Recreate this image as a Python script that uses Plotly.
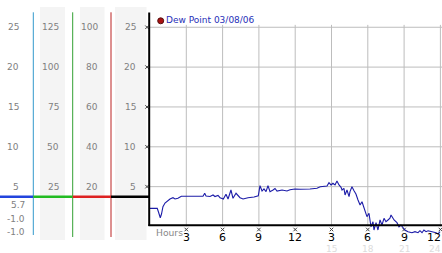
import plotly.graph_objects as go

# ---------------- data ----------------
hours = [0, 0.60, 0.70, 0.85, 0.95, 1.07, 1.24, 1.49, 1.65, 1.90, 2.07, 2.31, 2.59, 2.98, 3.72, 4.38,
         4.52, 4.63, 4.96, 5.21, 5.37, 5.62, 5.79, 6.06, 6.28, 6.45, 6.69, 6.86, 7.11, 7.44, 7.69,
         8.10, 8.60, 8.95, 9.09, 9.26, 9.42, 9.59, 9.75, 9.92, 10.17, 10.33, 10.50, 10.91, 11.32,
         11.57, 11.98, 12.40, 13.22, 13.80, 14.07, 14.63, 14.79, 14.96, 15.12, 15.29, 15.45, 15.62,
         15.79, 15.87, 16.03, 16.12, 16.28, 16.45, 16.53, 16.69, 16.86, 17.02, 17.19, 17.36, 17.52,
         17.69, 17.77, 17.85, 17.93, 18.10, 18.26, 18.43, 18.51, 18.68, 18.84, 19.01, 19.17, 19.34,
         19.50, 19.67, 19.83, 19.92, 20.17, 20.41, 20.58, 20.74, 20.91, 21.07, 21.32, 21.65, 21.90,
         22.15, 22.31, 22.48, 22.64, 22.81, 22.98, 23.31, 23.64, 23.80, 23.97]
dew_point = [2.28, 2.28, 1.82, 1.10, 1.57, 2.48, 2.95, 3.33, 3.45, 3.61, 3.45, 3.54, 3.79, 3.79, 3.79, 3.79,
             4.17, 3.83, 3.76, 3.95, 3.76, 3.89, 3.61, 3.45, 4.04, 3.45, 4.58, 3.54, 4.17, 3.61, 3.45,
             3.61, 3.70, 3.86, 5.12, 4.45, 4.71, 4.37, 5.12, 4.37, 4.58, 4.77, 4.45, 4.58, 4.45,
             4.62, 4.71, 4.67, 4.71, 4.79, 4.99, 5.08, 5.50, 5.21, 5.42, 5.21, 5.71, 5.21,
             4.92, 4.58, 4.79, 3.95, 4.58, 3.74, 4.37, 4.99, 4.49, 4.08, 3.32, 2.70, 3.11,
             2.28, 2.07, 1.66, 1.23, 1.66, -0.03, 0.60, -0.44, 0.48, -0.44, 0.82, 0.19, 1.03,
             0.60, 0.82, 1.03, 1.44, 0.82, 0.48, -0.03, 0.19, -0.10, -0.44, -0.65, -0.78, -0.65,
             -0.78, -0.53, -0.78, -0.44, -0.65, -0.53, -0.65, -0.78, -0.94, -0.65]

series_name = "Dew Point 03/08/06"
y_ticks = [25, 20, 15, 10, 5]
x_ticks = [3, 6, 9, 12, 15, 18, 21, 24]
x_tick_labels = ["3", "6", "9", "12", "3", "6", "9", "12"]
x_tick_labels_24h = ["", "", "", "", "15", "18", "21", "24"]
col1_labels = ["25", "20", "15", "10", "5"]
col2_labels = ["125", "100", "75", "50", "25"]
col3_labels = ["100", "80", "60", "40", "20"]
col4_labels = ["25", "20", "15", "10", "5"]
summary_labels = ["5.7", "-1.0", "-1.0"]

# ---------------- geometry ----------------
W, H = 442, 253
X0PX, PX_PER_H = 150.0, 12.1
Y0PX, PX_PER_V = 226.5, 7.97
xr = [(0 - X0PX) / PX_PER_H, (W - X0PX) / PX_PER_H]
yr = [(Y0PX - H) / PX_PER_V, Y0PX / PX_PER_V]


def px(x):
    return x / W


def py(y):
    return 1 - y / H


FONT = "DejaVu Sans, Verdana, sans-serif"
fig = go.Figure()
shapes = []
ann = []

# left panel gray columns
for x0, x1 in [(40, 65), (80, 104.5), (115, 146.5)]:
    shapes.append(dict(type="rect", xref="paper", yref="paper", x0=px(x0), x1=px(x1),
                       y0=py(240), y1=py(7), fillcolor="#f4f4f4", line=dict(width=0), layer="below"))

# colored vertical lines
for xv, c, yb in [(33.3, "#3399cc", 235), (72.7, "#33a033", 237), (111, "#bb2222", 237)]:
    shapes.append(dict(type="line", xref="paper", yref="paper", x0=px(xv), x1=px(xv),
                       y0=py(yb), y1=py(12.3), line=dict(color=c, width=1)))

# horizontal gridlines
for v in y_ticks:
    shapes.append(dict(type="line", xref="paper", yref="y", x0=px(149), x1=1, y0=v, y1=v,
                       line=dict(color="#bdbdbd", width=1), layer="below"))
# vertical gridlines
for h in x_ticks:
    shapes.append(dict(type="line", xref="x", yref="y", x0=h, x1=h, y0=0, y1=25.3,
                       line=dict(color="#bdbdbd", width=1), layer="below"))

# colored current-value line
for x0, x1, c in [(0, 33.3, "#2244dd"), (33.3, 72.7, "#22bb22"), (72.7, 111, "#dd2222"), (111, 150, "#000000")]:
    shapes.append(dict(type="line", xref="paper", yref="paper", x0=px(x0), x1=px(x1),
                       y0=py(196.7), y1=py(196.7), line=dict(color=c, width=2.5)))

# main axes lines
shapes.append(dict(type="line", xref="paper", yref="paper", x0=px(149.2), x1=px(149.2),
                   y0=py(226), y1=py(12.5), line=dict(color="#000", width=2)))
shapes.append(dict(type="line", xref="paper", yref="paper", x0=px(148.5), x1=1,
                   y0=py(225.2), y1=py(225.2), line=dict(color="#000", width=2)))

# left panel labels
for labels, xright in [(col1_labels, 20.5), (col2_labels, 60.5), (col3_labels, 99.5), (col4_labels, 137.8)]:
    for lab, v in zip(labels, y_ticks):
        ann.append(dict(xref="paper", yref="y", x=px(xright), y=v, text=lab, showarrow=False,
                        xanchor="right", yanchor="middle", font=dict(family=FONT, size=9, color="#808080")))
for lab, yy in zip(summary_labels, [205, 218.5, 231.7]):
    ann.append(dict(xref="paper", yref="paper", x=px(27), y=py(yy), text=lab, showarrow=False,
                    xanchor="right", yanchor="middle", font=dict(family=FONT, size=9, color="#808080")))

# x tick labels
n = len(x_ticks)
for i, (h, lab, lab2) in enumerate(zip(x_ticks, x_tick_labels, x_tick_labels_24h)):
    last = i == n - 1
    xa = "right" if last else "center"
    xx = h + (1.2 / PX_PER_H if last else 0)
    ann.append(dict(xref="x", yref="paper", x=xx, y=py(237.2), text=lab, showarrow=False,
                    xanchor=xa, yanchor="middle", borderpad=0, height=11,
                    font=dict(family=FONT, size=11, color="#000")))
    if lab2:
        ann.append(dict(xref="x", yref="paper", x=xx, y=py(248.6), text=lab2, showarrow=False,
                        xanchor=xa, yanchor="middle", borderpad=0, height=9,
                        font=dict(family=FONT, size=9, color="#dcdcdc")))
ann.append(dict(xref="paper", yref="paper", x=px(155), y=py(231.8), text="Hours", showarrow=False,
                xanchor="left", yanchor="middle", borderpad=0, height=10,
                font=dict(family=FONT, size=9.2, color="#888")))

# legend label
ann.append(dict(xref="paper", yref="paper", x=px(163.5), y=py(20.5), text=series_name, showarrow=False,
                xanchor="left", yanchor="middle", font=dict(family=FONT, size=9, color="#1f2fb8")))

# tick marks (small crosses)
fig.add_trace(go.Scatter(x=x_ticks, y=[(Y0PX - 229.5) / PX_PER_V] * len(x_ticks), mode="markers",
                         marker=dict(symbol="x-thin", size=3.5, line=dict(width=1, color="#444")),
                         hoverinfo="skip", showlegend=False))
fig.add_trace(go.Scatter(x=[(147 - X0PX) / PX_PER_H] * len(y_ticks), y=y_ticks, mode="markers",
                         marker=dict(symbol="x-thin", size=3.5, line=dict(width=1, color="#444")),
                         hoverinfo="skip", showlegend=False))
# legend marker
fig.add_trace(go.Scatter(x=[(160.7 - X0PX) / PX_PER_H], y=[(Y0PX - 20.8) / PX_PER_V], mode="markers",
                         marker=dict(symbol="circle", size=6, color="#aa1111", line=dict(width=1, color="#551111")),
                         hoverinfo="skip", showlegend=False))

# data
fig.add_trace(go.Scatter(x=hours, y=dew_point, mode="lines", name=series_name,
                         line=dict(color="#1c1ca8", width=1.1), showlegend=False))

fig.update_layout(
    width=W, height=H, margin=dict(l=0, r=0, t=0, b=0),
    paper_bgcolor="white", plot_bgcolor="white",
    xaxis=dict(range=xr, visible=False, fixedrange=True),
    yaxis=dict(range=yr, visible=False, fixedrange=True),
    shapes=shapes, annotations=ann, showlegend=False,
)
fig.write_html("out.html")
